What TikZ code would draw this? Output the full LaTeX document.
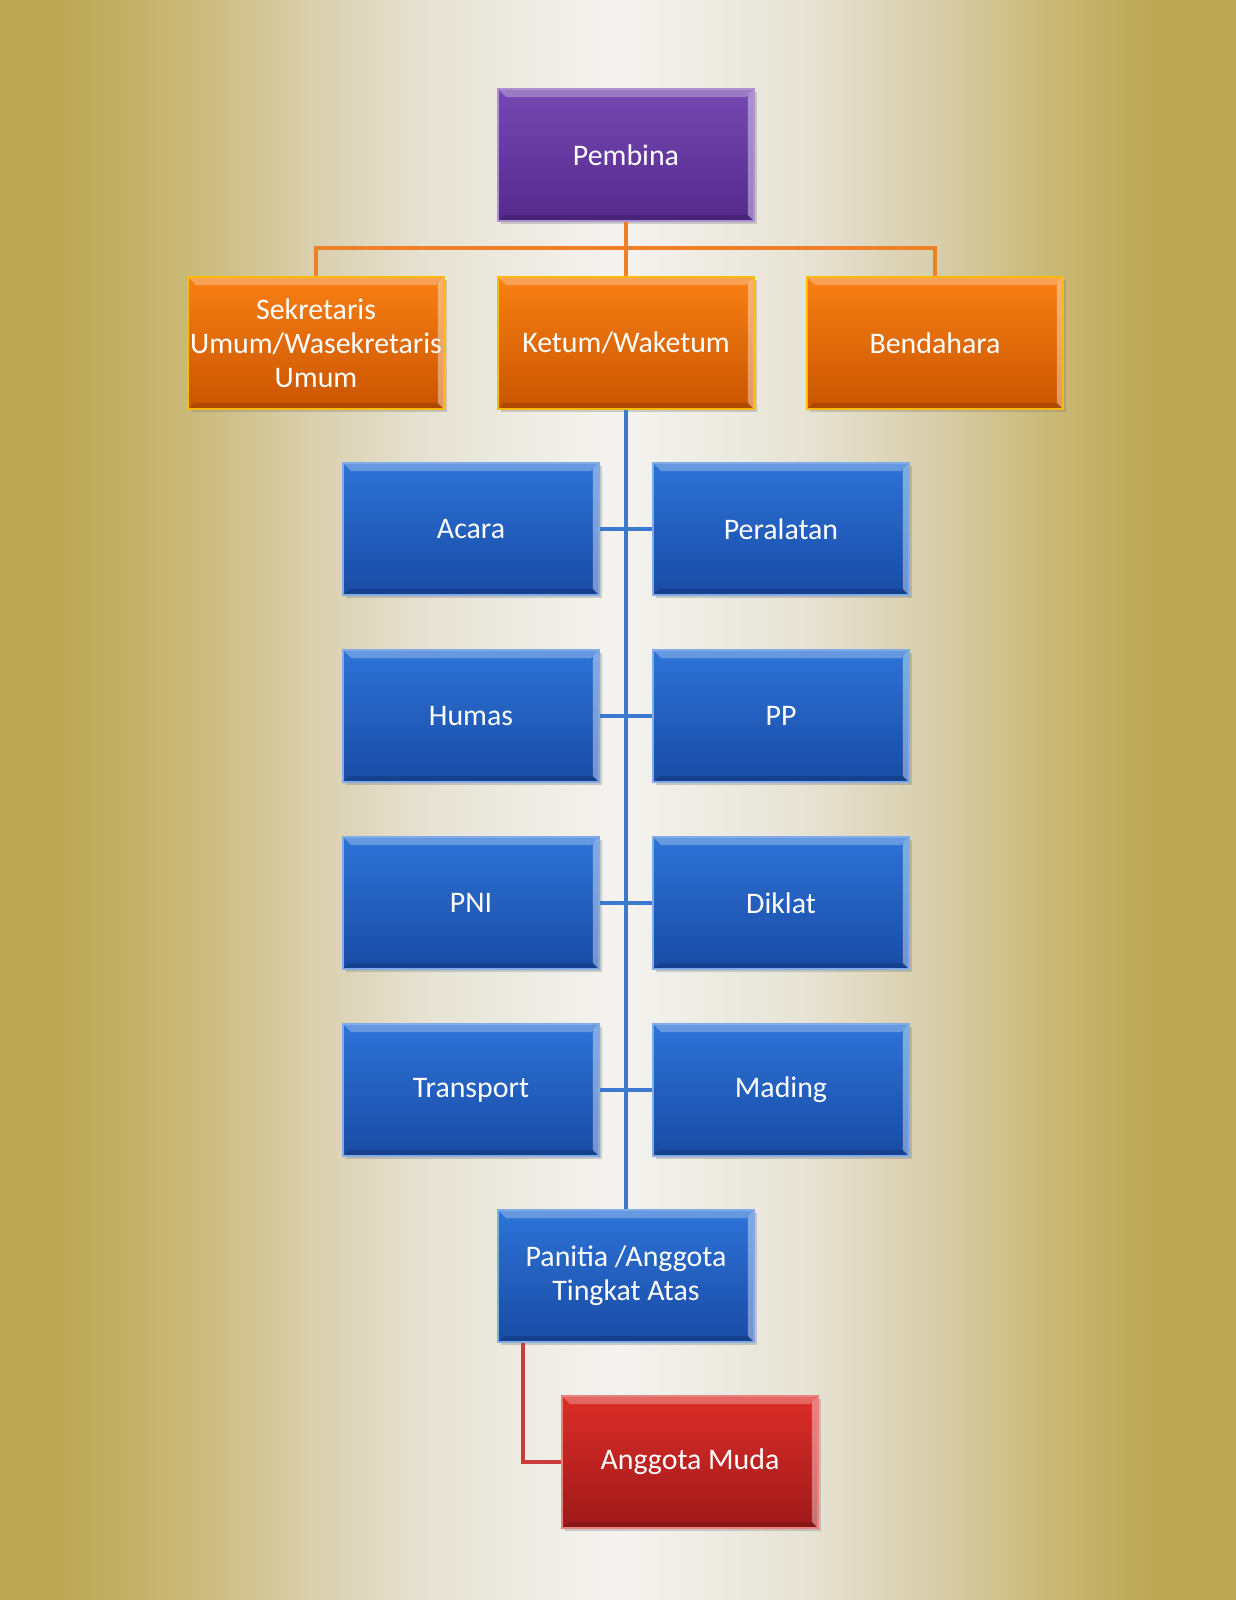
\documentclass[tikz,border=0pt]{standalone}
\usepackage{fontspec}
\setmainfont{Carlito}
\usetikzlibrary{shadows}

% warna
\definecolor{emas}{RGB}{188,168,84}
\definecolor{emasA}{RGB}{202,184,118}
\definecolor{emasB}{RGB}{217,207,172}
\definecolor{emasC}{RGB}{231,227,213}
\definecolor{terang}{RGB}{244,243,240}
\definecolor{unguAtas}{RGB}{118,72,178}
\definecolor{unguBawah}{RGB}{84,42,140}
\definecolor{oranyeAtas}{RGB}{248,128,20}
\definecolor{oranyeBawah}{RGB}{202,84,0}
\definecolor{biruAtas}{RGB}{45,115,215}
\definecolor{biruBawah}{RGB}{25,75,165}
\definecolor{merahAtas}{RGB}{220,45,40}
\definecolor{merahBawah}{RGB}{158,25,25}
\definecolor{garisOranye}{RGB}{240,128,40}
\definecolor{garisBiru}{RGB}{60,120,205}
\definecolor{garisMerah}{RGB}{200,60,60}

\pgfdeclarehorizontalshading{latar}{100bp}{color(0bp)=(emas); color(27.5bp)=(emas);
  color(32.5bp)=(emasA); color(37.5bp)=(emasB); color(42.5bp)=(emasC);
  color(50bp)=(terang); color(57.5bp)=(emasC); color(62.5bp)=(emasB);
  color(67.5bp)=(emasA); color(71.5bp)=(emas); color(100bp)=(emas)}

\tikzset{
  bevel/.style={path picture={
    % sisi atas dan kanan lebih terang, sisi bawah dan kiri lebih gelap
    \fill[white, opacity=0.28] (path picture bounding box.north west) -- (path picture bounding box.north east)
      -- ([xshift=-0.16cm, yshift=-0.16cm]path picture bounding box.north east)
      -- ([xshift=0.16cm, yshift=-0.16cm]path picture bounding box.north west) -- cycle;
    \fill[white, opacity=0.4] (path picture bounding box.north east) -- (path picture bounding box.south east)
      -- ([xshift=-0.12cm, yshift=0.12cm]path picture bounding box.south east)
      -- ([xshift=-0.12cm, yshift=-0.12cm]path picture bounding box.north east) -- cycle;
    \fill[black, opacity=0.15] (path picture bounding box.south west) -- (path picture bounding box.south east)
      -- ([xshift=-0.12cm, yshift=0.12cm]path picture bounding box.south east)
      -- ([xshift=0.12cm, yshift=0.12cm]path picture bounding box.south west) -- cycle;
  }},
  kotak/.style={minimum width=5.12cm, minimum height=2.64cm, inner xsep=0pt, align=center,
    text=white, font=\fontsize{17}{19.5}\selectfont, line width=1pt, bevel,
    drop shadow={opacity=0.35, shadow xshift=0.06cm, shadow yshift=-0.06cm}},
  pembina/.style={kotak, top color=unguAtas, bottom color=unguBawah, draw=unguAtas!60!white},
  pengurus/.style={kotak, top color=oranyeAtas, bottom color=oranyeBawah, draw=oranyeAtas!55!yellow},
  divisi/.style={kotak, top color=biruAtas, bottom color=biruBawah, draw=biruAtas!60!white},
  muda/.style={kotak, top color=merahAtas, bottom color=merahBawah, draw=merahAtas!60!white},
  garis/.style={line width=2.6pt}
}

\begin{document}
\begin{tikzpicture}[x=0.02cm, y=-0.02cm]
	\useasboundingbox (0,0) rectangle (1236,1600);
	\shade[shading=latar] (0,0) rectangle (1236,1600);
	
	% --- Pembina dan pengurus inti ---
	\node[pembina] (pembina) at (626,155) {Pembina};
	\node[pengurus] (sekum) at (316,343) {Sekretaris\\Umum/Wasekretaris\\Umum};
	\node[pengurus] (ketum) at (626,343) {Ketum/Waketum};
	\node[pengurus] (bendahara) at (935,343) {Bendahara};
	
	\coordinate (bus) at (626,248);
	\draw[garis, garisOranye] (pembina.south) -- (bus);
	\foreach \n in {sekum, ketum, bendahara} {
		\draw[garis, garisOranye] (\n.north) |- (bus);
	}
	
	% --- Divisi (kiri dan kanan) ---
	\foreach \kiri/\kanan/\y in {Acara/Peralatan/529, Humas/PP/716, PNI/Diklat/903, Transport/Mading/1090} {
		\node[divisi] (k\y) at (471,\y) {\kiri};
		\node[divisi] (r\y) at (781,\y) {\kanan};
	}
	
	% --- Panitia dan anggota muda ---
	\node[divisi] (panitia) at (626,1276) {Panitia /Anggota\\Tingkat Atas};
	\node[muda] (anggota) at (690,1462) {Anggota Muda};
	
	\draw[garis, garisBiru] (ketum.south) -- (panitia.north);
	\foreach \y in {529, 716, 903, 1090} {
		\draw[garis, garisBiru] (k\y.east) -- (r\y.west);
	}
	\draw[garis, garisMerah] ([xshift=0.52cm]panitia.south west) |- (anggota.west);
\end{tikzpicture}
\end{document}
